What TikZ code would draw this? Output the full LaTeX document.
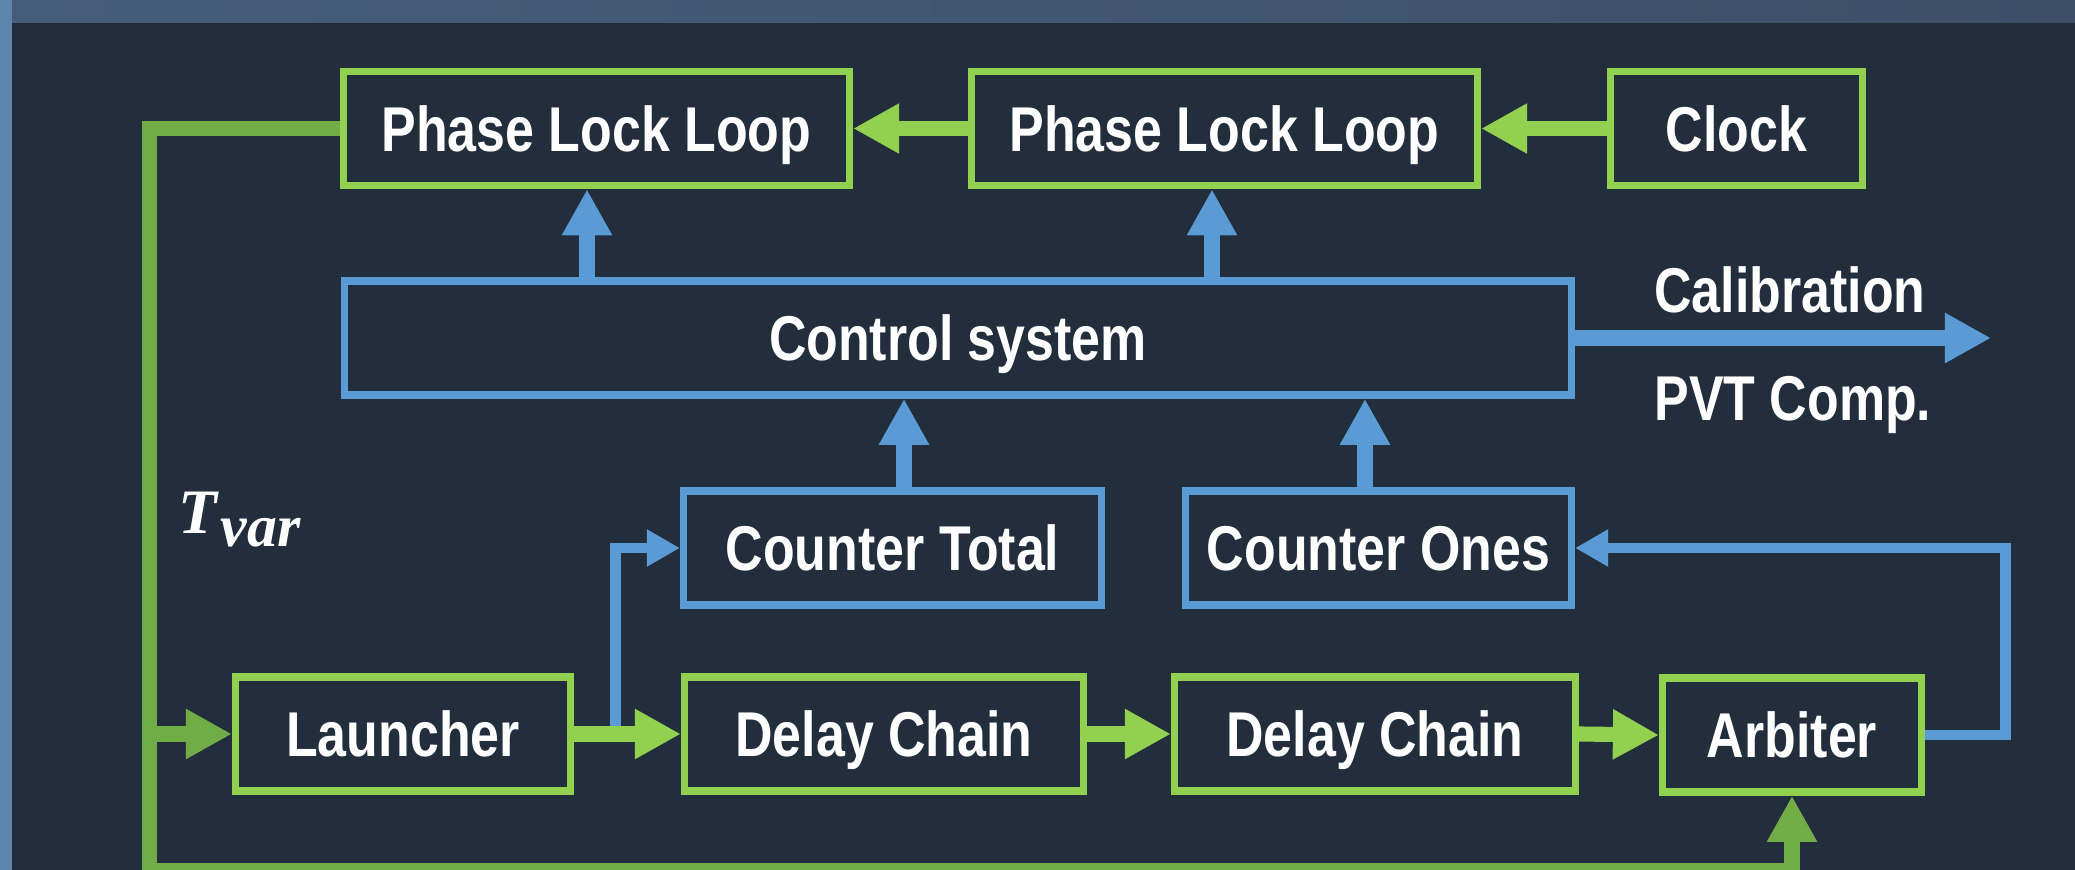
\documentclass[tikz,border=0pt]{standalone}
\usepackage{amsmath}
\usepackage{fontspec}
\usepackage{tikz}
\usetikzlibrary{arrows.meta,positioning,calc}
\newfontfamily\nbf{Liberation Sans}[FakeStretch=0.82]
\newfontfamily\tserif{Liberation Serif}
\definecolor{bgdark}{HTML}{232E3D}
\definecolor{bgstripL}{HTML}{465D7A}
\definecolor{bgstripR}{HTML}{3C4F67}
\definecolor{bgside}{HTML}{5F85AD}
\definecolor{lgreen}{HTML}{92D050}
\definecolor{dgreen}{HTML}{70AD47}
\definecolor{lblue}{HTML}{5B9BD5}

\begin{document}
\begin{tikzpicture}[x=0.01cm, y=-0.01cm,
    box/.style={draw, line width=2.13pt, rectangle, inner sep=0pt,
        minimum height=1.14cm, text=white, text height=12.9pt, text depth=0pt,
        font=\nbf\bfseries\fontsize{18}{21}\selectfont},
    gbox/.style={box, draw=lgreen},
    bbox/.style={box, draw=lblue},
    lbl/.style={inner sep=0pt, text=white, font=\nbf\bfseries\fontsize{18}{21}\selectfont},
    tlbl/.style={anchor=base west, inner sep=0pt, text=white, font=\tserif\bfseries\itshape\fontsize{18}{21}\selectfont},
    bigtip/.style={-{Triangle[length=0.46cm,width=0.47cm]}},
    smalltip/.style={-{Triangle[length=0.33cm,width=0.35cm]}},
    garrow/.style={lgreen, line width=4.3pt, bigtip},
    barrow/.style={lblue, line width=4.5pt, bigtip},
    bline/.style={lblue, line width=3.1pt, smalltip},
    gfeed/.style={dgreen, line width=4.5pt}
]
    % Background and frame strips
    \fill[bgdark] (0,0) rectangle (2075,870);
    \shade[left color=bgstripL, right color=bgstripR] (0,0) rectangle (2075,23);
    \fill[bgside] (0,0) rectangle (12,870);
    \useasboundingbox (0,0) rectangle (2075,870);

    % Top row: clock and PLLs
    \node[gbox, minimum width=5.055cm] (pllA) at (596.5,128.5) {Phase Lock Loop};
    \node[gbox, minimum width=5.055cm] (pllB) at (1224.5,128.5) {Phase Lock Loop};
    \node[gbox, minimum width=2.515cm] (clock) at (1736.5,128.5) {Clock};

    % Control system
    \node[bbox, minimum width=12.265cm] (ctrl) at (958,338) {Control system};
    \node[lbl, anchor=base] (calib) at (1790,312) {Calibration};
    \node[lbl, anchor=base] (pvt) at (1793,420) {PVT Comp.};

    % Counters
    \node[bbox, minimum width=4.175cm] (cntTotal) at (892.5,548) {Counter Total};
    \node[bbox, minimum width=3.855cm] (cntOnes) at (1378.5,548) {Counter Ones};

    % Bottom row: launcher, delay chains, arbiter
    \node[gbox, minimum width=3.345cm] (launcher) at (403,734) {Launcher};
    \node[gbox, minimum width=3.985cm] (delayA) at (884,734) {Delay Chain};
    \node[gbox, minimum width=4.005cm] (delayB) at (1375,734) {Delay Chain};
    \node[gbox, minimum width=2.585cm] (arbiter) at (1792,735) {Arbiter};

    % Tvar label
    \node[tlbl] (tvar) at (178,533) {T\kern1pt\raisebox{-3.8pt}{\fontsize{17}{20}\selectfont var}};

    % Helper coordinates
    \coordinate (upA) at (587,0);
    \coordinate (upB) at (1212,0);
    \coordinate (upC) at (904,0);
    \coordinate (upD) at (1365,0);
    \coordinate (calEnd) at (1991,338);
    \coordinate (split) at (615.5,734);
    \coordinate (ret) at (2005.5,548);
    \coordinate (fbTop) at (149.5,128.5);
    \coordinate (fbBot) at (149.5,871);

    % Blue side paths
    \draw[bline] (split) |- (cntTotal.west);
    \draw[bline] (arbiter.east) -| (ret) -- (cntOnes.east);

    % Clock chain
    \draw[garrow] (clock.west) -- (pllB.east);
    \draw[garrow] (pllB.west) -- (pllA.east);

    % Control outputs
    \draw[barrow] (ctrl.north -| upA) -- (pllA.south -| upA);
    \draw[barrow] (ctrl.north -| upB) -- (pllB.south -| upB);
    \draw[barrow] (ctrl.east) -- (calEnd);

    % Counter inputs to control
    \draw[barrow] (cntTotal.north -| upC) -- (ctrl.south -| upC);
    \draw[barrow] (cntOnes.north -| upD) -- (ctrl.south -| upD);

    % Signal path
    \draw[garrow] (launcher.east) -- (delayA.west);
    \draw[garrow] (delayA.east) -- (delayB.west);
    \draw[garrow] (delayB.east) -- (arbiter.west);

    % Feedback loop from first PLL
    \draw[gfeed, bigtip] (pllA.west) -- (fbTop) -- (fbBot) -| (arbiter.south);
    \draw[gfeed, bigtip] (fbTop |- launcher.west) -- (launcher.west);
\end{tikzpicture}
\end{document}
